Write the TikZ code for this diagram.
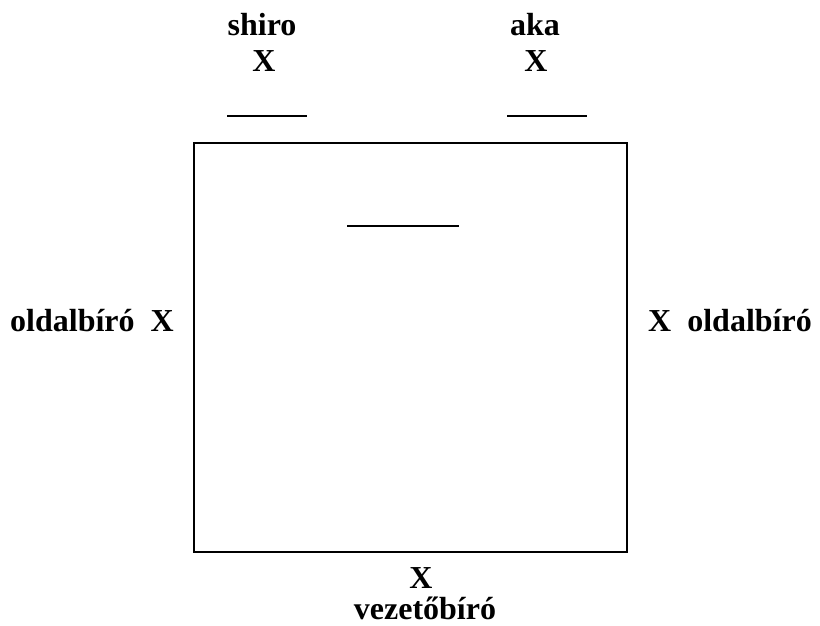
\documentclass[tikz,border=0pt]{standalone}
\usepackage{fontspec}
\setmainfont{Liberation Serif}
\begin{document}
\begin{tikzpicture}[x=1pt,y=1pt,
  lbl/.style={inner sep=0pt,anchor=base,font=\fontsize{32}{38}\selectfont\bfseries},
  ln/.style={line width=2pt}]
\useasboundingbox (0,0) rectangle (820,626);
% court
\draw[ln] (194,{626-143}) rectangle (627,{626-552});
% table lines
\draw[ln] (227,{626-116}) -- (307,{626-116});
\draw[ln] (507,{626-116}) -- (587,{626-116});
\draw[ln] (347,{626-226}) -- (459,{626-226});
% labels
\node[lbl] (shiro) at (262,{626-36}) {shiro};
\node[lbl] (shirox) at (264,{626-72}) {X};
\node[lbl] (aka) at (535,{626-36}) {aka};
\node[lbl] (akax) at (536,{626-72}) {X};
\node[lbl,anchor=base west] (left) at (10,{626-332}) {oldalbíró\hspace{0.5em}X};
\node[lbl,anchor=base east] (right) at (812,{626-332}) {X\hspace{0.5em}oldalbíró};
\node[lbl] (botx) at (421,{626-589}) {X};
\node[lbl] (vez) at (425,{626-620}) {vezetőbíró};
\end{tikzpicture}
\end{document}
